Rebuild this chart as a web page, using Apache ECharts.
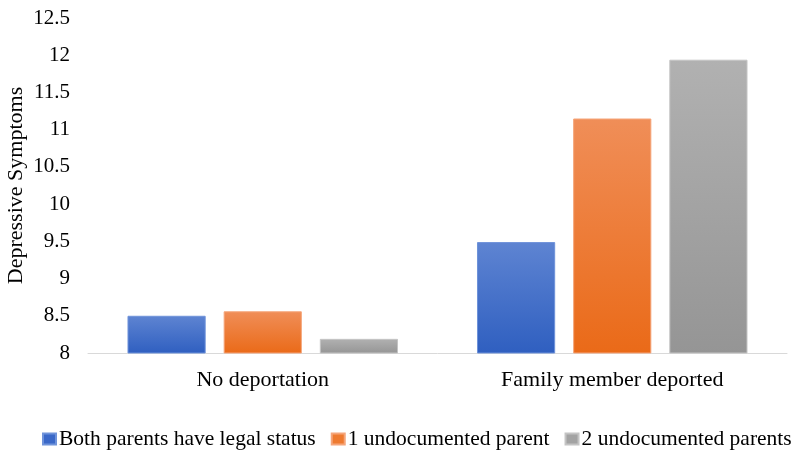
<!DOCTYPE html>
<html><head><meta charset="utf-8">
<script src="https://cdn.jsdelivr.net/npm/echarts@6/dist/echarts.min.js"></script>
<style>html,body{margin:0;padding:0;background:#fff}#c{width:800px;height:461px}</style>
</head><body><div id="c"></div>
<script>
var categories = ["No deportation", "Family member deported"];
var seriesNames = ["Both parents have legal status", "1 undocumented parent", "2 undocumented parents"];
var bothLegal = [8.50, 9.49];
var oneUndoc = [8.56, 11.15];
var twoUndoc = [8.19, 11.94];
var yTicks = [8, 8.5, 9, 9.5, 10, 10.5, 11, 11.5, 12, 12.5];

var font = "Liberation Serif";
function grad(top, bottom) {
  return new echarts.graphic.LinearGradient(0, 0, 0, 1, [{offset: 0, color: top}, {offset: 1, color: bottom}]);
}
var styles = [
  {c: grad('#5e84d2', '#2f5fc0'), b: '#6f93da', legend: '#3a68c8'},
  {c: grad('#f08e58', '#ea6a18'), b: '#f5a57a', legend: '#ee7a30'},
  {c: grad('#b1b1b1', '#959595'), b: '#c4c4c4', legend: '#a3a3a3'}
];
var data = [bothLegal, oneUndoc, twoUndoc];
var chart = echarts.init(document.getElementById('c'));
chart.setOption({
  animation: false,
  textStyle: {fontFamily: font},
  grid: {left: 88, right: 13, top: 18, bottom: 108, containLabel: false, outerBoundsMode: 'none'},
  legend: {
    top: 423, left: 37, itemWidth: 13, itemHeight: 11, itemGap: 15,
    textStyle: {fontFamily: font, fontSize: 21.5, color: '#000', padding: [0, 0, 0, -2]},
    data: seriesNames.map(function (n, i) { return {name: n, icon: 'rect', itemStyle: {color: styles[i].legend}}; })
  },
  xAxis: {
    type: 'category', data: categories,
    axisLine: {lineStyle: {color: '#d9d9d9', width: 1}},
    axisTick: {show: false},
    axisLabel: {fontFamily: font, fontSize: 22, color: '#000', margin: 16}
  },
  yAxis: {
    type: 'value', min: 8, max: 12.5, interval: 0.5,
    name: 'Depressive Symptoms', nameLocation: 'middle', nameGap: 61, nameRotate: 90,
    nameMoveOverlap: false,
    nameTextStyle: {fontFamily: font, fontSize: 22, color: '#000'},
    axisLine: {show: false}, axisTick: {show: false},
    splitLine: {show: false},
    axisLabel: {fontFamily: font, fontSize: 21, color: '#000', margin: 18,
      formatter: function (v) { return yTicks.indexOf(v) >= 0 ? String(v) : ''; }}
  },
  series: seriesNames.map(function (n, i) {
    return {
      name: n, type: 'bar', data: data[i],
      barGap: '23%', barCategoryGap: '22.6%',
      itemStyle: {color: styles[i].c, borderColor: styles[i].b, borderWidth: 1}
    };
  })
});
</script></body></html>
